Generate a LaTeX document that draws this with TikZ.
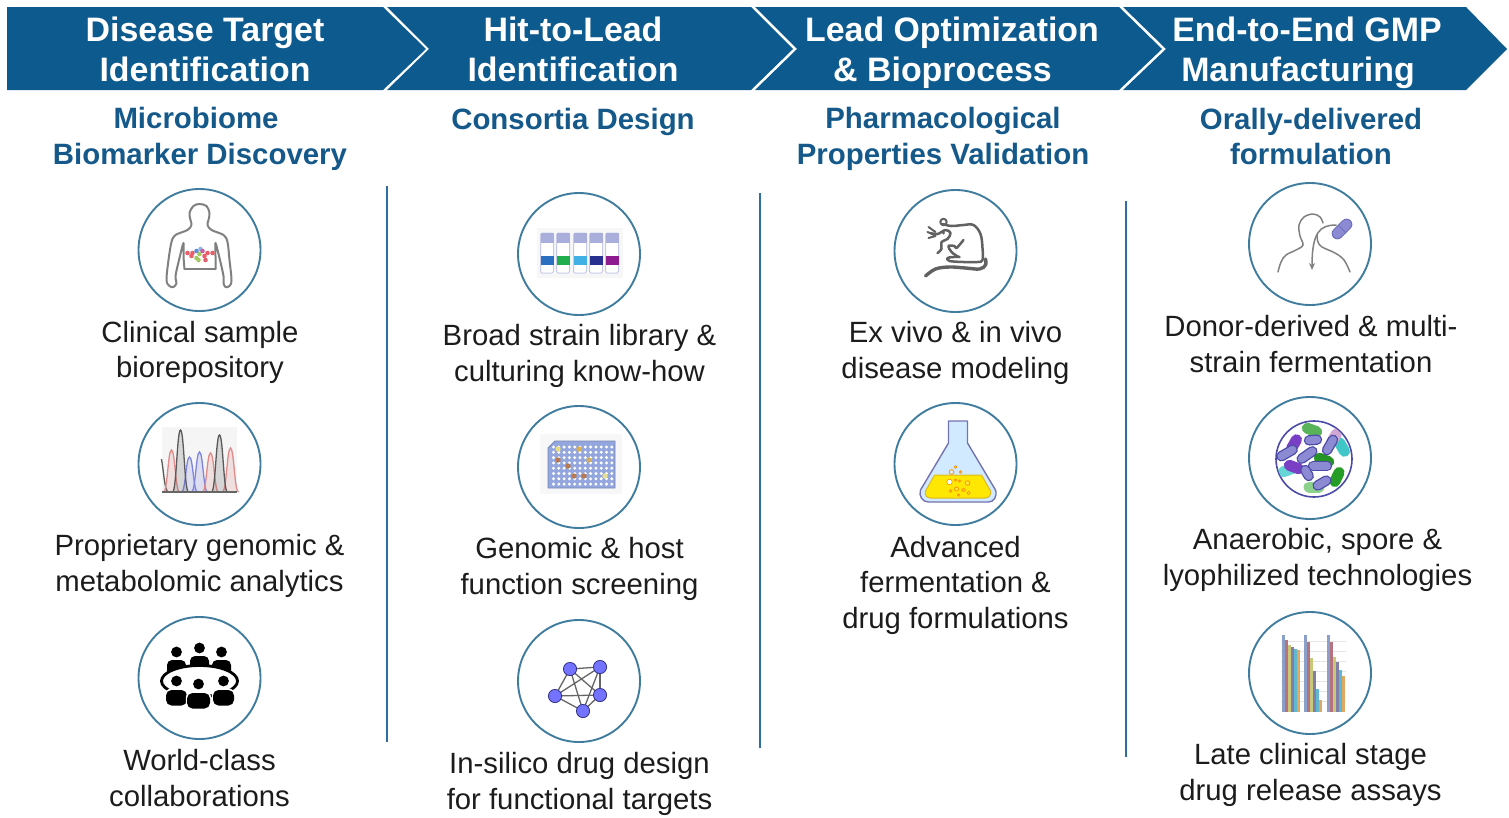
\documentclass[tikz,border=0pt]{standalone}
\usepackage{fontspec}
\setmainfont{Liberation Sans}
\usetikzlibrary{arrows.meta,calc}
\definecolor{band}{HTML}{0D5A8E}
\definecolor{subh}{HTML}{15598A}
\definecolor{ring}{HTML}{3F7C9E}
\definecolor{rule}{HTML}{2E6F9E}
\definecolor{ink}{HTML}{1C1C1C}
\definecolor{iconl}{HTML}{808080}
\definecolor{peri}{HTML}{8B8AD2}
\definecolor{perid}{HTML}{4B4AA6}
\definecolor{platef}{HTML}{93A6DE}
\definecolor{capc}{HTML}{A9AEDB}
\definecolor{vialo}{HTML}{C6CAE8}
\definecolor{chrR}{HTML}{E08A8A}
\definecolor{chrK}{HTML}{5A5A5A}
\definecolor{chrB}{HTML}{7F85DC}
\tikzset{
  x=1pt,y=-1pt,
  chev/.style={fill=band,draw=none},
  head/.style={text=white,font=\fontsize{33.9}{40}\selectfont\bfseries,align=center,inner sep=0pt},
  subhead/.style={text=subh,font=\fontsize{29.4}{35.5}\selectfont\bfseries,align=center,inner sep=0pt},
  body/.style={text=ink,font=\fontsize{29.3}{35.5}\selectfont,align=center,inner sep=0pt},
  ringnode/.style={circle,draw=ring,line width=1.9pt,fill=white,minimum size=122pt,inner sep=0pt},
  divider/.style={draw=rule,line width=1.5pt},
  iconline/.style={draw=iconl,line width=2pt,line cap=round,line join=round},
}
\newcommand{\rod}[6]{\begin{scope}[shift={(#1,#2)},rotate=#3]
  \draw[line width=10.4pt,line cap=round,draw=#6] (-#4/2,0)--(#4/2,0);
  \draw[line width=7.8pt,line cap=round,draw=#5] (-#4/2,0)--(#4/2,0);
\end{scope}}
\newcommand{\blob}[4]{\begin{scope}[shift={(#1,#2)},rotate=#3]
  \draw[line width=11pt,line cap=round,draw=#4] (-5,0)--(5,0);
\end{scope}}
\newcommand{\peak}[3]{\draw[draw=#3,fill=#3,fill opacity=.2,line width=1.3pt]
  (#1-8,28) .. controls (#1-4,28) and (#1-3.5,#2) .. (#1,#2) .. controls (#1+3.5,#2) and (#1+4,28) .. (#1+8,28);}
\begin{document}
\begin{tikzpicture}
\useasboundingbox (0,0) rectangle (1509,817);
% banner
\fill[chev] (7,7)--(383,7)--(426,49)--(383,90)--(7,90)--cycle;
\fill[chev] (387,7)--(751,7)--(793,49)--(751,90)--(387,90)--(429,49)--cycle;
\fill[chev] (755,7)--(1119,7)--(1162,49)--(1119,90)--(755,90)--(797,49)--cycle;
\fill[chev] (1123,7)--(1466,7)--(1507,49)--(1466,90)--(1123,90)--(1166,49)--cycle;
\node[head] (h1) at (205,49) {Disease Target\\Identification};
\node[head] (h2) at (573,49) {Hit-to-Lead\\Identification};
\node[head] (h3) at (952,53) {Lead Optimization\\\& Bioprocess\hspace{19pt}\mbox{}};
\node[head] (h4) at (1307,53) {End-to-End GMP\\Manufacturing\hspace{18pt}\mbox{}};
% sub heads
\node[subhead] (s1) at (200,139) {Microbiome\hspace{8pt}\mbox{}\\Biomarker Discovery};
\node[subhead,anchor=center] (s2) at (573,122) {Consortia Design};
\node[subhead] (s3) at (943,139) {Pharmacological\\Properties Validation};
\node[subhead] (s4) at (1311,136.5) {Orally-delivered\\formulation};
% dividers
\draw[divider] (387,186)--(387,742);
\draw[divider] (760,193)--(760,748);
\draw[divider] (1126,201)--(1126,757);
% rings
\node[ringnode] (c11) at (199.5,250) {};
\node[ringnode] (c12) at (199.5,464) {};
\node[ringnode] (c13) at (199.5,678) {};
\node[ringnode] (c21) at (579,254) {};
\node[ringnode] (c22) at (579,467) {};
\node[ringnode] (c23) at (579,681) {};
\node[ringnode] (c31) at (955.5,251) {};
\node[ringnode] (c32) at (955.5,464) {};
\node[ringnode] (c41) at (1310,244) {};
\node[ringnode] (c42) at (1310,458) {};
\node[ringnode] (c43) at (1310,673) {};
% labels
\node[body] (t11) at (200,352.5) {Clinical sample\\biorepository};
\node[body] (t12) at (199.5,566) {Proprietary genomic \&\\metabolomic analytics};
\node[body] (t13) at (199.5,778) {World-class\\collaborations};
\node[body] (t21) at (579.5,356) {Broad strain library \&\\culturing know-how};
\node[body] (t22) at (579.5,569) {Genomic \& host\\function screening};
\node[body] (t23) at (579.5,784) {In-silico drug design\\for functional targets};
\node[body] (t31) at (955.5,353) {Ex vivo \& in vivo\\disease modeling};
\node[body] (t32) at (955.5,585) {Advanced\\fermentation \&\\drug formulations};
\node[body] (t41) at (1311,344) {Donor-derived \& multi-\\strain fermentation};
\node[body] (t42) at (1317.5,560) {Anaerobic, spore \&\\lyophilized technologies};
\node[body] (t43) at (1310.5,775) {Late clinical stage\\drug release assays};
% --- icon: torso
\begin{scope}[shift={(c11.center)}]
\draw[iconline] plot[smooth,tension=.55] coordinates {(-15,19)(-16,6)(-16,-7)(-20,8)(-24,26)(-23,33)(-26,37)(-30,36)(-33,30)(-31,10)(-28,-8)(-24,-15)(-12,-20)(-8,-25)(-9,-30)(-10,-37)(-6,-44)(0,-46)(7,-44)(10,-37)(9,-30)(8,-25)(12,-20)(24,-15)(28,-8)(30,10)(32,30)(30,36)(26,37)(24,33)(24,26)(20,8)(16,-7)(16,6)(16,19)};
\draw[iconline] (-15,19)--(16,19);
\foreach \a/\b/\c in {-12/3/E8606A,-7/3/E8606A,-3/1/5F8FD8,1/-1/8FB8E8,5/6/E8606A,8/3/E8606A,13/3/E8606A,-3/8/A5C860,-1/10/A5C860,3/1/C85FA0,6/10/E8606A,-8/6/E8606A,0/4/A5C860}
  {\definecolor{tmpc}{HTML}{\c}\fill[tmpc] (\a,\b) circle[radius=2.3];}
\end{scope}
% --- icon: chromatogram
\begin{scope}[shift={(c12.center)}]
\fill[black!4] (-38,-37) rectangle (37,29);
\draw[draw=chrK,line width=1.3pt] (-38,-5) .. controls (-36,5) and (-35,28) .. (-31,28);
\peak{-28}{-14}{chrR}
\peak{-10}{-7}{chrB}
\peak{0}{-12}{chrB}
\peak{11}{-11}{chrR}
\peak{31}{-16}{chrR}
\peak{-19}{-34}{chrK}
\peak{20}{-29}{chrK}
\draw[black!60,line width=1.2pt] (-38,28)--(37,28);
\end{scope}
% --- icon: meeting
\begin{scope}[shift={(c13.center)}]
\foreach \x/\y in {-23/-26,0/-30,22/-26}{
  \fill[black] (\x,\y) circle[radius=5.4];
  \fill[black,rounded corners=5pt] (\x-9.5,\y+8) rectangle (\x+9.5,\y+26);}
\draw[black,line width=2.8pt,fill=white] (0,3) ellipse[x radius=38,y radius=15.5];
\foreach \x/\y/\w in {-23/3/10.5,-1/6/11.5,24/3/10.5}{
  \fill[black] (\x,\y) circle[radius=5.4];
  \fill[white,rounded corners=6pt] (\x-\w-1.2,\y+7.8) rectangle (\x+\w+1.2,\y+25.5);
  \fill[black,rounded corners=5.5pt] (\x-\w,\y+9) rectangle (\x+\w,\y+24.5);}
\end{scope}
% --- icon: vials
\begin{scope}[shift={(c21.center)}]
\fill[black!3] (-42,-26) rectangle (44,24);
\foreach \x/\c in {-32/2A6FC0,-16/1FAE4B,1/41B0E4,17/27308F,33/8E1A90}{
  \definecolor{tmpc}{HTML}{\c}
  \draw[draw=vialo,fill=white,line width=1pt,rounded corners=1.5pt] (\x-6.5,-21) rectangle (\x+6.5,19);
  \fill[capc] (\x-6.5,-21) rectangle (\x+6.5,-11);
  \fill[tmpc] (\x-6.5,2) rectangle (\x+6.5,10.5);}
\end{scope}
% --- icon: well plate
\begin{scope}[shift={(c22.center)}]
\fill[black!3] (-39,-33) rectangle (43,27);
\draw[draw=platef!80!black,fill=platef,line width=.9pt] (-24,-26)--(36,-26)--(36,21)--(-31,21)--(-31,-19)--cycle;
\foreach \i in {0,...,11}{\foreach \j in {0,...,7}{
  \fill[white] (-25.5+5.3*\i,-20+5.3*\j) circle[radius=1.65];}}
\foreach \x/\y/\c in {-21/-18/E8DC80,0/-18/D8B050,-21/-7/B87850,-11/-1/B87850,10/-7/D0B060,-5/9/B87850,5/9/B87850,26/9/E8E090}{
  \definecolor{tmpc}{HTML}{\c}\fill[tmpc] (\x,\y) circle[radius=2.7];}
\end{scope}
% --- icon: network
\begin{scope}[shift={(c23.center)}]
\coordinate (n1) at (-9,-12); \coordinate (n2) at (21,-14); \coordinate (n3) at (-24,15);
\coordinate (n4) at (21,14); \coordinate (n5) at (4,30);
\foreach \a/\b in {n1/n2,n1/n3,n1/n4,n1/n5,n2/n3,n2/n4,n2/n5,n3/n4,n3/n5,n4/n5}
  \draw[black!60,line width=1.3pt] (\a)--(\b);
\foreach \n in {n1,n2,n3,n4,n5}
  \draw[draw=blue!40!black!80,fill=blue!55!white,line width=.8pt] (\n) circle[radius=6.6];
\end{scope}
% --- icon: rat
\begin{scope}[shift={(c31.center)}]
\draw[iconline,line width=2.5pt,draw=black!62] plot[smooth,tension=.6] coordinates {(-13,-27)(-4,-25)(8,-26)(18,-26)(25,-17)(27,-3)(27,9)(22,11)(8,11)(-6,10)(-8,7)(-2,6)(4,6)};
\draw[iconline,line width=2.5pt,draw=black!62] plot[smooth,tension=.6] coordinates {(-25,-18)(-18,-17)(-10,-21)(-5,-18)(-8,-12)(-14,-9)(-14,-2)(-18,2)};
\draw[iconline,line width=2.5pt,draw=black!62] plot[smooth,tension=.6] coordinates {(8,-11)(1,-3)(-1,-5)(-7,-5)(-4,1)(3,6)};
\draw[iconline,line width=2pt,draw=black!62] (-27,-24)--(-20,-19) (-28,-19)--(-21,-16) (-27,-13)--(-20,-15);
\draw[iconline,line width=2pt,draw=black!62] (-12,-29) circle[radius=3.2];
\fill[black!62] (-12,-18) circle[radius=1.6];
\draw[line width=3.4pt,line cap=round,draw=black!62] plot[smooth,tension=.6] coordinates {(-30,25)(-20,18)(-6,16)(10,17)(24,18)(30,14)(30,8)};
\end{scope}
% --- icon: flask
\begin{scope}[shift={(c32.center)}]
\draw[fill=blue!45!cyan!18!white,line width=1.4pt,line join=round,draw=blue!45!black!55!white]
 (-7,-43)--(12,-43)--(12,-21)--(40,26) .. controls (42,33) and (38,38) .. (33,38)--(-27,38) .. controls (-33,38) and (-37,32) .. (-35,26)--(-7,-21)--cycle;
\draw[fill=yellow!90!orange,draw=black!20!yellow!70!orange,line width=1pt,line join=round]
 (-21,11)--(26,11)--(35,27) .. controls (36,31) and (33,34) .. (30,34)--(-25,34) .. controls (-29,34) and (-31,31) .. (-30,27)--cycle;
\foreach \x/\y/\r in {-4/8/2.4,0/3/1.4,5/8/1.3,-6/18/2.6,0/16/1,4/17/1,12/19/2.3,-5/27/1.3,1/25/2,8/26/1.8,13/29/1.6,3/31/1}
  \draw[draw=orange!85!yellow,line width=.8pt,fill=white,fill opacity=.25] (\x,\y) circle[radius=\r];
\fill[white] (-6,18) circle[radius=2.2];
\end{scope}
% --- icon: pill and person
\begin{scope}[shift={(c41.center)}]
\draw[iconline,line width=1.5pt,draw=black!50] plot[smooth,tension=.6] coordinates {(-32,28)(-29,18)(-24,11)(-14,6)(-7,1)(-10,-8)(-11,-19)(-6,-27)(3,-30)(10,-27)(13,-21)};
\draw[iconline,line width=1.5pt,draw=black!50] plot[smooth,tension=.6] coordinates {(7,-9)(8,-2)(12,3)(25,9)(34,16)(40,28)};
\draw[iconline,line width=1.5pt,draw=black!50,-{Stealth[length=7pt,width=6pt]}] (26,-19) .. controls (10,-19) and (2,-12) .. (2,26);
\begin{scope}[shift={(32,-15)},rotate=45]
\draw[line width=11.5pt,line cap=round,draw=perid!80!white] (-6.5,0)--(6.5,0);
\draw[line width=9.5pt,line cap=round,draw=peri] (-6.5,0)--(6.5,0);
\draw[perid!80!white,line width=.9pt] (0,-5.5)--(0,5.5);
\end{scope}
\end{scope}
% --- icon: bacteria
\begin{scope}[shift={(c42.center)}]
\draw[draw=perid,line width=1.6pt] (4,1) circle[radius=38];
\clip (4,1) circle[radius=37.3];
\blob{32}{-11}{-60}{teal!60!cyan!75!white}
\blob{2}{-28}{-20}{green!55!black!65!white}
\blob{27}{19}{65}{green!55!black!85!white}
\blob{4}{29}{0}{green!60!black!45!white}
\blob{-22}{12}{20}{teal!55!cyan!60!white}
\blob{14}{2}{-20}{green!50!black!85!white}
\blob{-16}{-14}{60}{violet!60!blue!75!white}
\blob{-16}{9}{-20}{violet!60!blue!75!white}
\blob{24}{-20}{60}{violet!35!white}
\rod{3}{-18}{5}{8}{peri}{perid}
\rod{20}{-13}{60}{12}{peri}{perid}
\rod{-23}{-5}{30}{13}{peri}{perid}
\rod{-3}{-3}{35}{13}{peri}{perid}
\rod{10}{8}{0}{14}{peri}{perid}
\rod{-3}{15}{-60}{7}{peri}{perid}
\rod{12}{25}{30}{10}{peri}{perid}
\end{scope}
% --- icon: bar chart
\begin{scope}[shift={(c43.center)}]
\foreach \y in {-32,-22,-12,-2,8,18,28} \draw[black!10,line width=.5pt] (-29,\y)--(36,\y);
\foreach \g/\a/\b/\c/\d/\e/\f in {-28/-38/-33/-28/-26/-24/-23,-6/-38/-31/-15/-2/16/27,17/-38/-31/-16/-11/-3/3}{
  \foreach \k/\t/\col in {0/\a/8AA0C8,3/\b/B5737F,6/\c/C8C878,9/\d/7F7FA8,12/\e/5FB8D0,15/\f/E0A860}{
    \definecolor{tmpc}{HTML}{\col}
    \fill[tmpc] (\g+\k-.3,\t) rectangle (\g+\k+2.8,39);}}
\end{scope}
\end{tikzpicture}
\end{document}
